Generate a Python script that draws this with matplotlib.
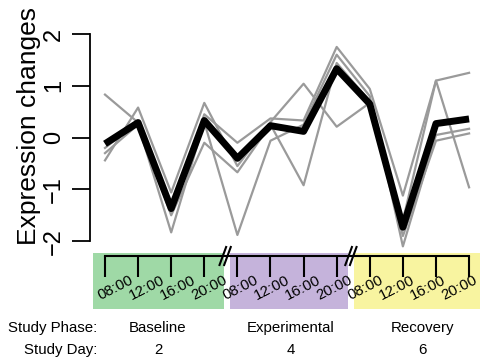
import matplotlib
matplotlib.use('Agg')
import matplotlib.pyplot as plt
import numpy as np
from matplotlib.patches import Rectangle

plt.rcParams['font.family'] = ['Liberation Sans', 'DejaVu Sans']

# ---------------- data ----------------
time_labels = ['08:00', '12:00', '16:00', '20:00'] * 3
phases = ['Baseline', 'Experimental', 'Recovery']
study_days = ['2', '4', '6']
phase_colors = ['#9fd9a6', '#c5b3db', '#f8f4a0']
y_ticks = [-2, -1, 0, 1, 2]

gene_a = [0.83, 0.29, -1.40, 0.45, -0.10, 0.37, 0.33, 1.75, 0.94, -1.12, 1.10, 1.25]
gene_b = [-0.44, 0.58, -1.06, 0.67, -0.55, 0.30, 1.04, 0.21, 0.67, -1.60, 1.10, -0.96]
gene_c = [-0.30, 0.25, -1.83, 0.30, -1.88, -0.06, 0.25, 1.60, 0.80, -2.10, 0.05, 0.17]
gene_d = [-0.20, 0.30, -1.50, -0.10, -0.67, 0.25, -0.92, 1.44, 0.70, -1.90, -0.06, 0.08]
mean_profile = [-0.12, 0.29, -1.37, 0.33, -0.40, 0.23, 0.12, 1.33, 0.65, -1.73, 0.27, 0.36]

genes = [gene_a, gene_b, gene_c, gene_d]

# ---------------- layout ----------------
W, H = 481, 362
fig = plt.figure(figsize=(W / 100, H / 100), dpi=100)

def fx(px):
    return px / W

def fy(py):
    return 1 - py / H

XLIM = (-0.453, 11.36)
x = np.arange(len(mean_profile))

ax = fig.add_axes([fx(90), fy(250), fx(W - 90), fy(20) - fy(250)])
ax.set_xlim(*XLIM)
ax.set_ylim(-2.17, 2.27)
for g in genes:
    ax.plot(x, g, color='#9a9a9a', lw=1.6, solid_joinstyle='round')
ax.plot(x, mean_profile, color='black', lw=5.0, solid_joinstyle='round',
        solid_capstyle='butt')

for s in ['top', 'right', 'bottom']:
    ax.spines[s].set_visible(False)
ax.spines['left'].set_bounds(-2, 2)
ax.spines['left'].set_linewidth(1.3)
ax.set_xticks([])
ax.set_yticks(y_ticks)
ax.set_yticklabels([str(v) if v >= 0 else '\u2212' + str(-v) for v in y_ticks],
                   rotation=90, va='center', fontsize=17)
ax.tick_params(axis='y', length=13, width=1.3, pad=5)

fig.text(fx(29), fy(126), 'Expression changes', rotation=90,
         ha='center', va='center', fontsize=19)

# ---------------- timeline ----------------
bx = fig.add_axes([fx(90), 0, fx(W - 90), fy(240)])
bx.set_xlim(*XLIM)
bx.set_ylim(H, 240)
bx.axis('off')

box_edges = [(-0.36, 3.60), (3.78, 7.34), (7.52, 11.40)]
for (x0, x1), c in zip(box_edges, phase_colors):
    bx.add_patch(Rectangle((x0, 253), x1 - x0, 56, facecolor=c,
                           edgecolor='none', zorder=1))

bx.plot([x[0], x[-1]], [256, 256], color='black', lw=1.5, zorder=3)
bx.vlines(x, 256, 277, color='black', lw=1.5, zorder=3)
n = len(x)
for i, (xi, t) in enumerate(zip(x, time_labels)):
    shift = 0.33 - 0.62 * i / (n - 1)
    bx.text(xi + shift, 288, t, rotation=27, ha='center', va='center',
            fontsize=10.8, zorder=4)

for b in [3.63, 7.43]:
    for off in [-0.07, 0.07]:
        bx.plot([b + off - 0.1, b + off + 0.1], [265, 247], color='black',
                lw=1.5, zorder=4)

for k, (p, d) in enumerate(zip(phases, study_days)):
    cx = 4 * k + 1.5 + 0.1
    bx.text(cx, 328, p, ha='center', va='center', fontsize=10.8)
    bx.text(cx, 350, d, ha='center', va='center', fontsize=10.8)

fig.text(fx(97), fy(328), 'Study Phase:', ha='right', va='center', fontsize=10.8)
fig.text(fx(97), fy(350), 'Study Day:', ha='right', va='center', fontsize=10.8)

fig.savefig('out.png', dpi=100)
